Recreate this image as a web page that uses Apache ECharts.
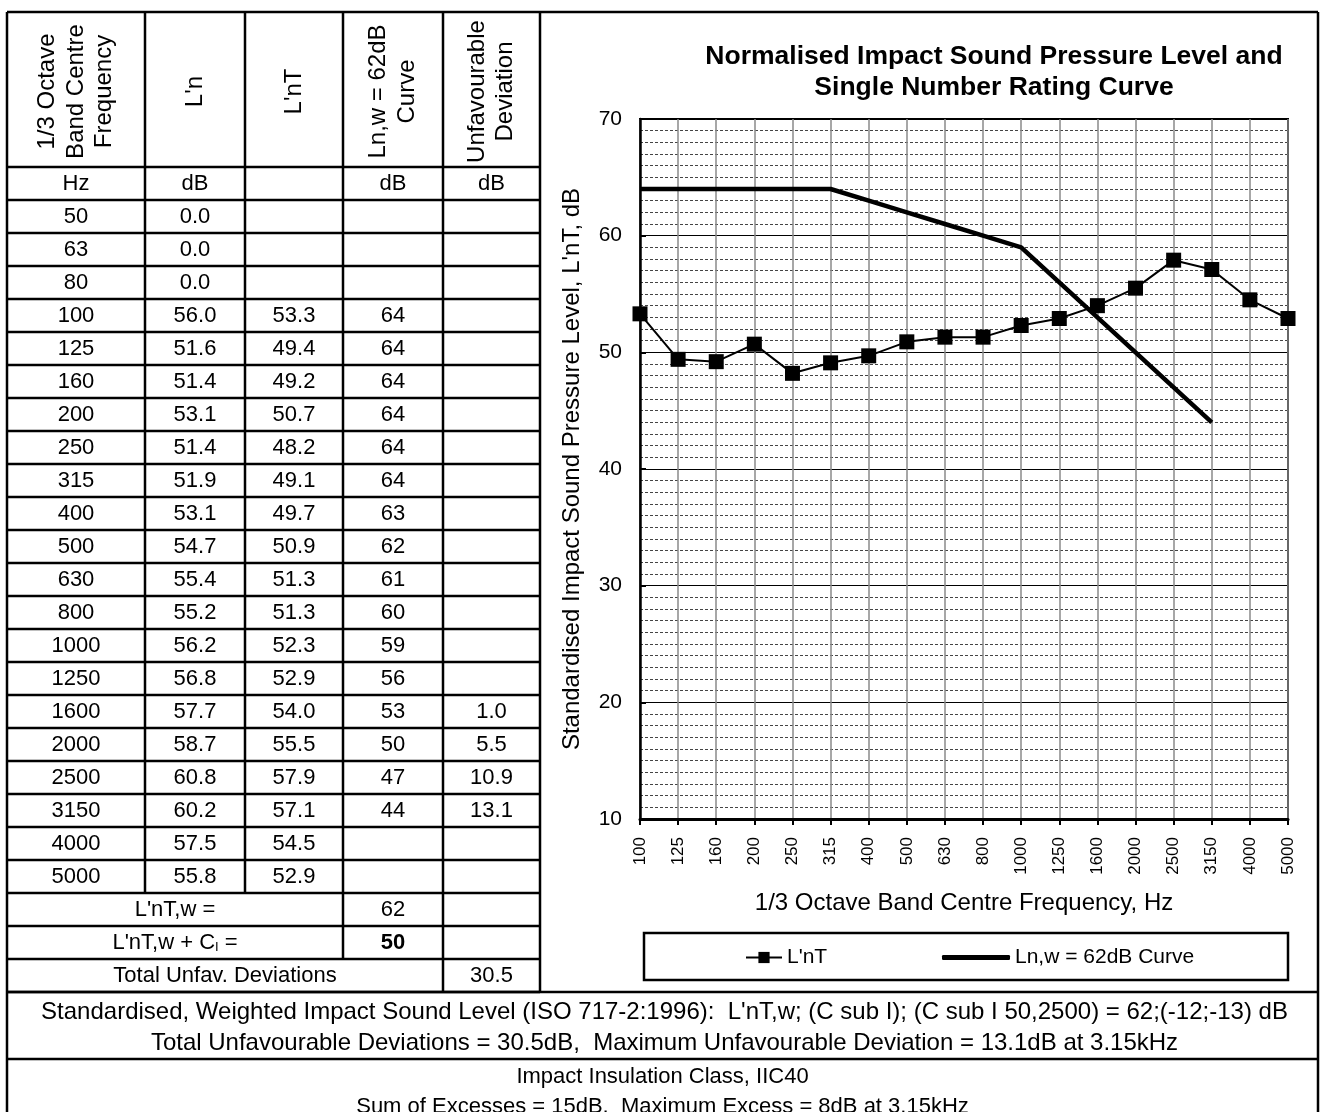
<!DOCTYPE html>
<html>
<head>
<meta charset="utf-8">
<script src="https://cdn.jsdelivr.net/npm/echarts@6/dist/echarts.min.js"></script>
<style>
  html, body { margin: 0; padding: 0; background: #fff; }
  #chart { width: 1320px; height: 1112px; }
</style>
</head>
<body>
<div id="chart"></div>
<script>
// 1/3 octave band data
const freqs = [50, 63, 80, 100, 125, 160, 200, 250, 315, 400, 500, 630, 800, 1000, 1250, 1600, 2000, 2500, 3150, 4000, 5000];
const lnValues = [0.0, 0.0, 0.0, 56.0, 51.6, 51.4, 53.1, 51.4, 51.9, 53.1, 54.7, 55.4, 55.2, 56.2, 56.8, 57.7, 58.7, 60.8, 60.2, 57.5, 55.8];
const lntValues = [null, null, null, 53.3, 49.4, 49.2, 50.7, 48.2, 49.1, 49.7, 50.9, 51.3, 51.3, 52.3, 52.9, 54.0, 55.5, 57.9, 57.1, 54.5, 52.9];
const curveValues = [null, null, null, 64, 64, 64, 64, 64, 64, 63, 62, 61, 60, 59, 56, 53, 50, 47, 44, null, null];
const deviationValues = [null, null, null, null, null, null, null, null, null, null, null, null, null, null, null, 1.0, 5.5, 10.9, 13.1, null, null];

const lntw = 62;
const lntwCi = 50;
const ciValue = -12;
const ci50Value = -13;
const totalUnfav = 30.5;
const maxUnfav = 13.1;
const iic = 40;
const sumExcess = 15;
const maxExcess = 8;

const yMin = 10;
const yMax = 70;
const yStep = 10;

// chart only shows 100 Hz .. 5000 Hz
const chartFreqs = freqs.slice(3).map(String);
const chartLnt = lntValues.slice(3);
const chartCurve = curveValues.slice(3);

const FONT = '"Liberation Sans", Arial, sans-serif';
const cellFont = '22px ' + FONT;

// table geometry
const cols = [7, 145, 245, 343, 443, 540];
const frameRight = 1318;
const headTop = 12;
const headBottom = 167;
const rowH = 33;
const dataTop = headBottom + rowH;
const tableBottom = headBottom + rowH * 25;

const g = [];
const line = (x1, y1, x2, y2, w) => {
  g.push({ type: 'line', silent: true, shape: { x1, y1, x2, y2 }, style: { stroke: '#000', lineWidth: w || 2.5 } });
};
const text = (x, y, s, extra) => {
  g.push({
    type: 'text', silent: true, x, y,
    style: Object.assign({ text: s, font: cellFont, fill: '#000', align: 'center', verticalAlign: 'middle' }, extra || {}),
  });
};
const colMid = (i) => (cols[i] + cols[i + 1]) / 2;
const rowMid = (r) => dataTop + rowH * r + rowH / 2;
const fmt1 = (v) => (v === null ? '' : v.toFixed(1));

// frame
line(cols[0], headTop, cols[0], 1112);
line(cols[0], headTop, frameRight, headTop);
line(frameRight, headTop, frameRight, 1112);
line(cols[5], headTop, cols[5], tableBottom);
// table rows
for (let k = 0; k <= 25; k++) {
  line(cols[0], headBottom + rowH * k, cols[5], headBottom + rowH * k);
}
line(cols[0], tableBottom, frameRight, tableBottom);
line(cols[0], tableBottom + 67, frameRight, tableBottom + 67);
// table columns
const lastDataRow = dataTop + rowH * freqs.length;
line(cols[1], headTop, cols[1], lastDataRow);
line(cols[2], headTop, cols[2], lastDataRow);
line(cols[3], headTop, cols[3], lastDataRow + rowH * 2);
line(cols[4], headTop, cols[4], tableBottom);

// header
const headMid = (headTop + headBottom) / 2;
const headers = ['1/3 Octave\nBand Centre\nFrequency', "L'n", "L'nT", 'Ln,w = 62dB\nCurve', 'Unfavourable\nDeviation'];
headers.forEach((h, i) => {
  g.push({
    type: 'text', silent: true, x: colMid(i), y: headMid + 2, rotation: Math.PI / 2,
    style: { text: h, font: '24px ' + FONT, fill: '#000', align: 'center', verticalAlign: 'middle', lineHeight: 28.5 },
  });
});
const units = ['Hz', 'dB', '', 'dB', 'dB'];
units.forEach((u, i) => text(colMid(i), headBottom + rowH / 2, u));

// data rows
freqs.forEach((f, r) => {
  text(colMid(0), rowMid(r), String(f));
  text(colMid(1), rowMid(r), fmt1(lnValues[r]));
  text(colMid(2), rowMid(r), fmt1(lntValues[r]));
  text(colMid(3), rowMid(r), curveValues[r] === null ? '' : String(curveValues[r]));
  text(colMid(4), rowMid(r), fmt1(deviationValues[r]));
});

// summary rows
const r1 = freqs.length;
text((cols[0] + cols[3]) / 2, rowMid(r1), "L'nT,w =");
text(colMid(3), rowMid(r1), String(lntw));
g.push({
  type: 'text', silent: true, x: (cols[0] + cols[3]) / 2, y: rowMid(r1 + 1),
  style: {
    text: "L'nT,w + C{sub|I} =", font: cellFont, fill: '#000', align: 'center', verticalAlign: 'middle',
    rich: { sub: { fontSize: 13, fontFamily: FONT, padding: [9, 0, 0, 0] } },
  },
});
text(colMid(3), rowMid(r1 + 1), String(lntwCi), { font: 'bold 22px ' + FONT });
text((cols[0] + cols[4]) / 2, rowMid(r1 + 2), 'Total Unfav. Deviations');
text(colMid(4), rowMid(r1 + 2), totalUnfav.toFixed(1));

// footer
const footMid = (cols[0] + frameRight) / 2;
const footFont = '24px ' + FONT;
text(footMid + 2, tableBottom + 20, `Standardised, Weighted Impact Sound Level (ISO 717-2:1996):  L'nT,w; (C sub I); (C sub I 50,2500) = ${lntw};(${ciValue};${ci50Value}) dB`, { font: footFont });
text(footMid + 2, tableBottom + 51, `Total Unfavourable Deviations = ${totalUnfav}dB,  Maximum Unfavourable Deviation = ${maxUnfav}dB at 3.15kHz`, { font: footFont });
text(footMid, tableBottom + 85, `Impact Insulation Class, IIC${iic}`);
text(footMid, tableBottom + 115, `Sum of Excesses = ${sumExcess}dB,  Maximum Excess = ${maxExcess}dB at 3.15kHz`);

// chart title + legend box
text(994, 57, 'Normalised Impact Sound Pressure Level and', { font: 'bold 26.5px ' + FONT });
text(994, 88, 'Single Number Rating Curve', { font: 'bold 26.5px ' + FONT });
g.push({ type: 'rect', silent: true, shape: { x: 644, y: 933, width: 644, height: 47 }, style: { fill: 'none', stroke: '#000', lineWidth: 2.5 } });

const legendText = { fontSize: 21, fontFamily: FONT, color: '#000' };

const option = {
  animation: false,
  backgroundColor: '#fff',
  grid: {
    left: 640, right: 1320 - 1288, top: 119, bottom: 1112 - 819,
    show: true, borderColor: '#000', borderWidth: 2, containLabel: false,
  },
  legend: [
    {
      data: ["L'nT"], left: 740, top: 942, itemWidth: 36, itemHeight: 14, itemGap: 5,
      selectedMode: false, textStyle: legendText,
    },
    {
      data: [{ name: 'Ln,w = 62dB Curve', icon: 'roundRect' }], left: 937, top: 942, itemWidth: 68, itemHeight: 5,
      selectedMode: false, textStyle: legendText,
    },
  ],
  xAxis: {
    type: 'category',
    data: chartFreqs,
    boundaryGap: false,
    name: '1/3 Octave Band Centre Frequency, Hz',
    nameLocation: 'middle',
    nameGap: 72,
    nameTextStyle: { fontSize: 24, fontFamily: FONT, color: '#000' },
    axisLine: { lineStyle: { color: '#000', width: 3 } },
    axisTick: { show: true, interval: 0, length: 6, lineStyle: { color: '#000', width: 2 } },
    axisLabel: { interval: 0, rotate: 90, margin: 18, fontSize: 17, fontFamily: FONT, color: '#000' },
    splitLine: { show: true, interval: 0, lineStyle: { color: '#8a8a8a', width: 1.5 } },
  },
  yAxis: {
    type: 'value',
    min: yMin,
    max: yMax,
    interval: yStep,
    name: "Standardised Impact Sound Pressure Level, L'nT, dB",
    nameLocation: 'middle',
    nameRotate: 90,
    nameGap: 56,
    nameTextStyle: { fontSize: 24, fontFamily: FONT, color: '#000' },
    axisLine: { show: true, lineStyle: { color: '#000', width: 2.5 } },
    axisTick: { show: true, inside: true, length: 6, lineStyle: { color: '#000', width: 2 } },
    axisLabel: { margin: 18, fontSize: 21, fontFamily: FONT, color: '#000' },
    splitLine: { show: true, lineStyle: { color: '#000', width: 1 } },
    minorTick: { show: false, splitNumber: 10 },
    minorSplitLine: { show: true, lineStyle: { color: '#444', width: 1, type: [3, 2] } },
  },
  series: [
    {
      name: "L'nT",
      type: 'line',
      data: chartLnt,
      symbol: 'rect',
      symbolSize: 15,
      showAllSymbol: true,
      lineStyle: { color: '#000', width: 2 },
      itemStyle: { color: '#000' },
      z: 4,
    },
    {
      name: 'Ln,w = 62dB Curve',
      type: 'line',
      data: chartCurve,
      symbol: 'none',
      connectNulls: false,
      lineStyle: { color: '#000', width: 4.5 },
      itemStyle: { color: '#000' },
      z: 3,
    },
  ],
  graphic: g,
};

const myChart = echarts.init(document.getElementById('chart'));
myChart.setOption(option);
</script>
</body>
</html>
